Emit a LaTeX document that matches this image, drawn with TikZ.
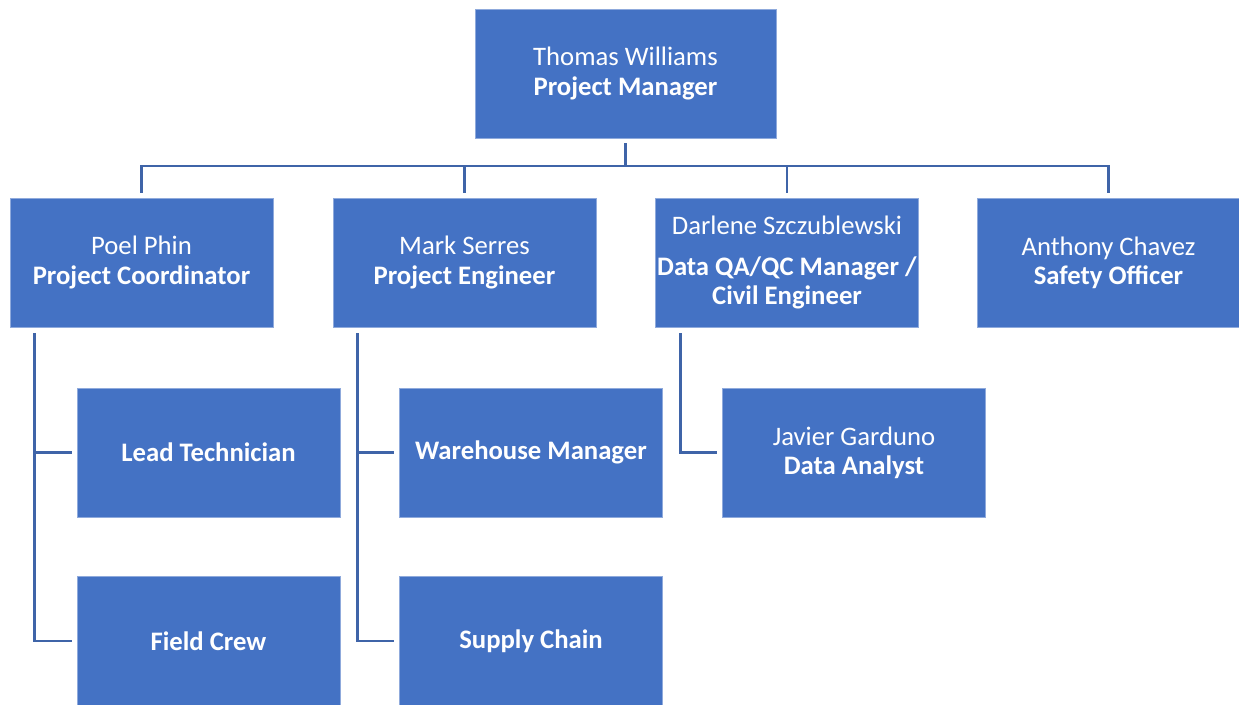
\documentclass[tikz,border=0pt]{standalone}
\usepackage{fontspec}
\setmainfont{Carlito}
\usetikzlibrary{calc}
\definecolor{boxblue}{HTML}{4472C4}
\definecolor{edgeblue}{HTML}{8FAADC}
\definecolor{lineblue}{HTML}{3F64A8}

\begin{document}
\begin{tikzpicture}[x=0.02cm,y=-0.02cm,
	orgbox/.style={shape=rectangle,draw=edgeblue,line width=0.4pt,fill=boxblue,text=white,
		minimum width=5.26cm,minimum height=2.58cm,inner sep=0pt,align=center,
		font=\fontsize{15.2}{16.6}\selectfont},
	conn/.style={draw=lineblue,line width=1.5pt}]
	
	\useasboundingbox (0,0) rectangle (1239,705);
	
	\node[orgbox,minimum width=6.02cm] (pm) at (625.5,73.5)  {Thomas Williams\\\textbf{Project Manager}};
	\node[orgbox] (pc) at (141.5,262.5)  {Poel Phin\\\textbf{Project Coordinator}};
	\node[orgbox] (pe) at (464.5,262.5)  {Mark Serres\\\textbf{Project Engineer}};
	\node[orgbox] (dm) at (787,262.5)    {Darlene Szczublewski\\[7pt]\textbf{Data QA/QC Manager /}\\\textbf{Civil Engineer}};
	\node[orgbox] (so) at (1108.5,262.5) {Anthony Chavez\\\textbf{Safety Officer}};
	\node[orgbox] (lt) at (208.5,452.5)  {\textbf{Lead Technician}};
	\node[orgbox] (fc) at (208.5,641)    {\textbf{Field Crew}};
	\node[orgbox] (wm) at (531,452.5)    {\textbf{Warehouse Manager}};
	\node[orgbox] (sc) at (531,641)      {\textbf{Supply Chain}};
	\node[orgbox] (da) at (854,452.5)    {Javier Garduno\\\textbf{Data Analyst}};
	
	% top level
	\coordinate (bus) at (625.5,166);
	\draw[conn] ($(pm.south)+(0,5)$) -- (bus);
	\draw[conn] ($(pc.north)+(0,-5)$) |- (bus) -| ($(so.north)+(0,-5)$);
	\draw[conn] ($(pe.north)+(0,-5)$) -- (pe.north |- bus);
	\draw[conn] ($(dm.north)+(0,-5)$) -- (dm.north |- bus);
	
	% second level
	\draw[conn] ($(pc.south west)+(25,6)$) |- ($(lt.west)+(-5,0)$);
	\draw[conn] ($(pc.south west)+(25,6)$) |- ($(fc.west)+(-5,0)$);
	\draw[conn] ($(pe.south west)+(25,6)$) |- ($(wm.west)+(-5,0)$);
	\draw[conn] ($(pe.south west)+(25,6)$) |- ($(sc.west)+(-5,0)$);
	\draw[conn] ($(dm.south west)+(25,6)$) |- ($(da.west)+(-5,0)$);
	
\end{tikzpicture}
\end{document}
